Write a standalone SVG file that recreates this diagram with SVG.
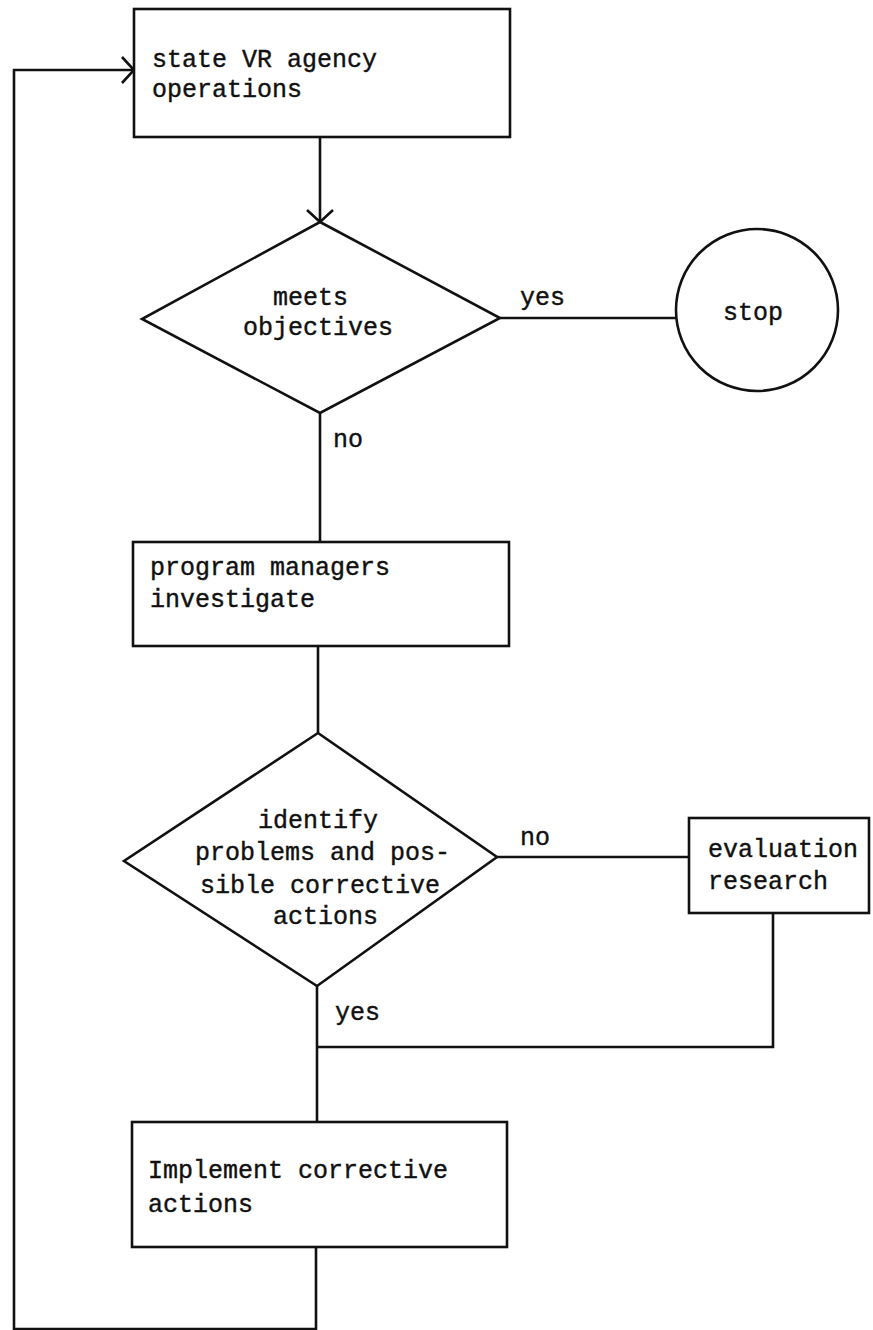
<svg xmlns="http://www.w3.org/2000/svg" width="873" height="1330" viewBox="0 0 873 1330">
  <style>
    .shape { fill: #fff; stroke: #111; stroke-width: 2.6; }
    .line { fill: none; stroke: #111; stroke-width: 2.6; }
    text { font-family: "Liberation Mono", "DejaVu Sans Mono", monospace; font-size: 25px; fill: #111; stroke: #111; stroke-width: 0.4; }
  </style>
  <defs>
    <marker id="arrow" markerUnits="userSpaceOnUse" viewBox="0 0 14 28" refX="13" refY="14" markerWidth="14" markerHeight="28" orient="auto">
      <path d="M1,1 L13,14 L1,27" fill="none" stroke="#111" stroke-width="2.6"/>
    </marker>
  </defs>
  <rect width="873" height="1330" fill="#fff"/>

  <g id="connectors">
    <path class="line" d="M320,137 V222" marker-end="url(#arrow)"/>
    <path class="line" d="M500,318 H677"/>
    <path class="line" d="M320,413 V542"/>
    <path class="line" d="M318,646 V733"/>
    <path class="line" d="M497,857 H689"/>
    <path class="line" d="M773,913 V1047 H317"/>
    <path class="line" d="M317,986 V1122"/>
    <path class="line" d="M316,1247 V1329 H14 V70 H134" marker-end="url(#arrow)"/>
    <text x="520" y="305">yes</text>
    <text x="333" y="447">no</text>
    <text x="520" y="845">no</text>
    <text x="335" y="1020">yes</text>
  </g>

  <g id="node-operations">
    <rect class="shape" x="134" y="9" width="376" height="128"/>
    <text x="152" y="67">state VR agency</text>
    <text x="152" y="97">operations</text>
  </g>

  <g id="node-meets">
    <polygon class="shape" points="320,222 500,318 320,413 142,319"/>
    <text x="273" y="305">meets</text>
    <text x="243" y="335">objectives</text>
  </g>

  <g id="node-stop">
    <circle class="shape" cx="757" cy="310" r="81"/>
    <text x="723" y="320">stop</text>
  </g>

  <g id="node-investigate">
    <rect class="shape" x="133" y="542" width="376" height="104"/>
    <text x="150" y="575">program managers</text>
    <text x="150" y="607">investigate</text>
  </g>

  <g id="node-identify">
    <polygon class="shape" points="318,733 497,857 317,986 124,861"/>
    <text x="258" y="828">identify</text>
    <text x="195" y="860">problems and pos-</text>
    <text x="200" y="893">sible corrective</text>
    <text x="273" y="924">actions</text>
  </g>

  <g id="node-evaluation">
    <rect class="shape" x="689" y="818" width="180" height="95"/>
    <text x="708" y="857">evaluation</text>
    <text x="708" y="889">research</text>
  </g>

  <g id="node-implement">
    <rect class="shape" x="132" y="1122" width="375" height="125"/>
    <text x="148" y="1178">Implement corrective</text>
    <text x="148" y="1212">actions</text>
  </g>
</svg>
